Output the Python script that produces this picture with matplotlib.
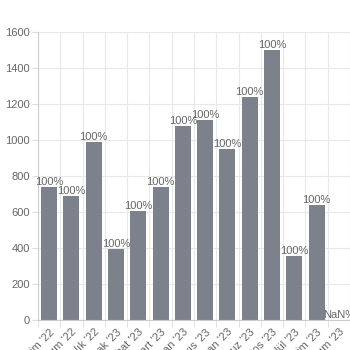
import matplotlib.pyplot as plt
import numpy as np
from matplotlib.ticker import FixedLocator

# data
months = ["Ekim '22", "Kasım '22", "Aralık '22", "Ocak '23", "Şubat '23", "Mart '23",
          "Nisan '23", "Mayıs '23", "Haziran '23", "Temmuz '23", "Ağustos '23",
          "Eylül '23", "Ekim '23", "Kasım '23"]
values = [740, 690, 990, 395, 605, 740, 1080, 1110, 948, 1240, 1502, 355, 637, 0]
labels = ["100%"] * 13 + ["NaN%"]

plt.rcParams['font.family'] = ['Liberation Sans', 'DejaVu Sans']

fig = plt.figure(figsize=(3.5, 3.5), dpi=100)
ax = fig.add_axes([38/350, 30/350, 312/350, 288/350])

x = np.arange(len(months))
ax.bar(x, values, width=0.72, color='#7d818b', zorder=2)

for xi, v, lab in zip(x, values, labels):
    ax.text(xi, v, lab, ha='center', va='bottom', fontsize=8, color='#666666',
            zorder=3, clip_on=False)

ax.set_xlim(-0.5, len(months) - 0.5)
ax.set_ylim(0, 1600)
ax.set_yticks(np.arange(0, 1601, 200))

ax.set_xticks(x)
ax.set_xticklabels(months, rotation=45, ha='right', rotation_mode='anchor',
                   fontsize=8, color='#666666')
ax.tick_params(axis='x', which='major', length=0, pad=5)
ax.xaxis.set_minor_locator(FixedLocator(np.arange(-0.5, len(months), 1)))
ax.tick_params(axis='x', which='minor', length=5, color='#dddddd')
ax.tick_params(axis='y', length=4, color='#dddddd', labelsize=8, labelcolor='#666666', pad=2)

ax.grid(True, which='minor', axis='x', color='#e8e8e8', linewidth=0.8, zorder=0)
ax.grid(True, which='major', axis='y', color='#e8e8e8', linewidth=0.8, zorder=0)

for s in ['top', 'right']:
    ax.spines[s].set_visible(False)
ax.spines['left'].set_color('#cccccc')
ax.spines['bottom'].set_color('#cccccc')

fig.savefig('out.png', dpi=100)
